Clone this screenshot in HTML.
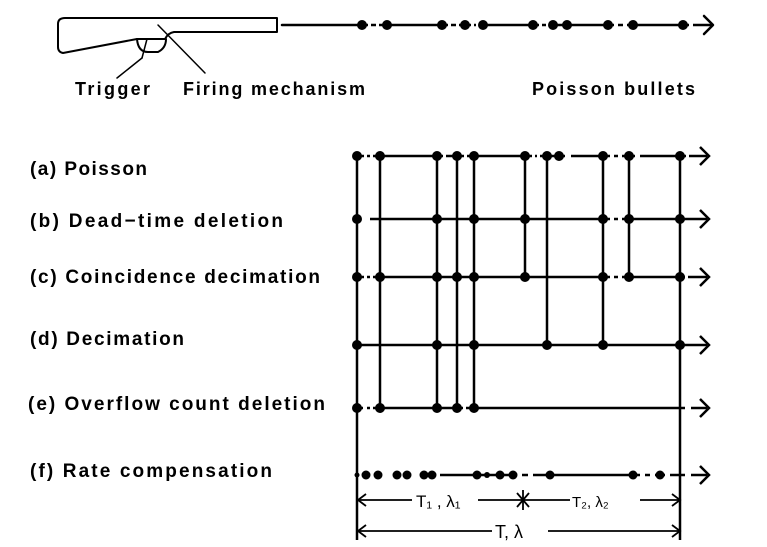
<!DOCTYPE html>
<html><head><meta charset="utf-8"><style>
html,body{margin:0;padding:0;background:#fff;}
svg{display:block;}
text{font-family:"Liberation Sans",sans-serif;font-weight:bold;font-size:19px;fill:#000;}
</style></head><body>
<svg width="767" height="547" viewBox="0 0 767 547" xmlns="http://www.w3.org/2000/svg">
<g stroke="#000" stroke-width="2" fill="none" stroke-linecap="round" stroke-linejoin="round">
<path d="M65 18 L277 18 L277 32 L174 32 Q168 33 165 39 L137 39 L63 53 Q58 52 58 47 L58 24 Q58 18 65 18"/>
<path d="M137 39 Q138 52 148 52 L158 52 Q166 48 166 39"/>
<line x1="158" y1="25" x2="205" y2="73" stroke-width="1.5"/>
<line x1="147" y1="39" x2="142" y2="58" stroke-width="1.5"/>
<line x1="142" y1="58" x2="117" y2="78" stroke-width="1.5"/>
<line x1="282" y1="25" x2="711" y2="25" stroke-width="2.5"/>
<path d="M704 16 L713 25 L704 34" stroke-width="2.5"/>
</g>
<g fill="#fff">
<rect x="368" y="21" width="3" height="8"/><rect x="376" y="21" width="3" height="8"/>
<rect x="448" y="21" width="3" height="8"/><rect x="456" y="21" width="3" height="8"/><rect x="471" y="21" width="3" height="8"/><rect x="476" y="21" width="3" height="8"/>
<rect x="539" y="21" width="3" height="8"/><rect x="546" y="21" width="3" height="8"/>
<rect x="614" y="21" width="4" height="8"/><rect x="623" y="21" width="4" height="8"/>
<rect x="689" y="21" width="4" height="8"/>
</g>
<g fill="#000">
<circle cx="362" cy="25" r="5"/><circle cx="387" cy="25" r="5"/>
<circle cx="442" cy="25" r="5"/><circle cx="465" cy="25" r="5"/><circle cx="483" cy="25" r="5"/>
<circle cx="533" cy="25" r="5"/><circle cx="553" cy="25" r="5"/><circle cx="567" cy="25" r="5"/>
<circle cx="608" cy="25" r="5"/><circle cx="633" cy="25" r="5"/><circle cx="683" cy="25" r="5"/>
</g>
<text x="75" y="95" style="font-size:18px" textLength="75">Trigger</text>
<text x="183" y="95" style="font-size:18px" textLength="182">Firing mechanism</text>
<text x="532" y="95" style="font-size:18px" textLength="163">Poisson bullets</text>

<text x="30" y="175" textLength="117">(a) Poisson</text>
<text x="30" y="227" textLength="253">(b) Dead−time deletion</text>
<text x="30" y="283" textLength="290">(c) Coincidence decimation</text>
<text x="30" y="345" textLength="154">(d) Decimation</text>
<text x="28" y="410" textLength="297">(e) Overflow count deletion</text>
<text x="30" y="477" textLength="242">(f) Rate compensation</text>

<g stroke="#000" stroke-width="2.5" fill="none">
<line x1="357" y1="156" x2="357" y2="540"/>
<line x1="680" y1="156" x2="680" y2="540"/>
<line x1="380" y1="156" x2="380" y2="408"/>
<line x1="437" y1="156" x2="437" y2="408"/>
<line x1="457" y1="156" x2="457" y2="408"/>
<line x1="474" y1="156" x2="474" y2="408"/>
<line x1="525" y1="156" x2="525" y2="277"/>
<line x1="547" y1="156" x2="547" y2="345"/>
<line x1="603" y1="156" x2="603" y2="345"/>
<line x1="629" y1="156" x2="629" y2="277"/>
<line x1="357" y1="156" x2="707" y2="156"/>
<line x1="370" y1="219" x2="707" y2="219"/>
<line x1="357" y1="277" x2="707" y2="277"/>
<line x1="357" y1="345" x2="707" y2="345"/>
<line x1="357" y1="408" x2="707" y2="408"/>
<line x1="440" y1="475" x2="707" y2="475"/>
<path d="M700 147 L709 156 L700 165"/>
<path d="M700 210 L709 219 L700 228"/>
<path d="M700 268 L709 277 L700 286"/>
<path d="M700 336 L709 345 L700 354"/>
<path d="M700 399 L709 408 L700 417"/>
<path d="M700 466 L709 475 L700 484"/>
</g>
<g fill="#fff">
<rect x="364" y="153" width="3" height="6"/><rect x="370" y="153" width="3" height="6"/>
<rect x="443" y="153" width="3" height="6"/><rect x="464" y="153" width="3" height="6"/>
<rect x="532" y="153" width="3" height="6"/><rect x="537" y="153" width="3" height="6"/>
<rect x="565" y="153" width="6" height="6"/><rect x="610" y="153" width="4" height="6"/><rect x="618" y="153" width="4" height="6"/>
<rect x="635" y="153" width="5" height="6"/><rect x="686" y="153" width="3" height="6"/>
<rect x="610" y="216" width="4" height="6"/><rect x="618" y="216" width="4" height="6"/>
<rect x="364" y="274" width="3" height="6"/><rect x="370" y="274" width="3" height="6"/>
<rect x="610" y="274" width="4" height="6"/><rect x="618" y="274" width="4" height="6"/>
<rect x="685" y="274" width="3" height="6"/>
<rect x="363" y="405" width="4" height="6"/><rect x="370" y="405" width="3" height="6"/>
<rect x="463" y="405" width="3" height="6"/><rect x="685" y="405" width="6" height="6"/>
<rect x="517" y="472" width="5" height="6"/><rect x="528" y="472" width="5" height="6"/>
<rect x="640" y="472" width="5" height="6"/><rect x="650" y="472" width="5" height="6"/><rect x="665" y="472" width="5" height="6"/><rect x="685" y="472" width="6" height="6"/>
</g>
<g fill="#000">
<circle cx="357" cy="156" r="5"/><circle cx="380" cy="156" r="5"/><circle cx="437" cy="156" r="5"/><circle cx="457" cy="156" r="5"/><circle cx="474" cy="156" r="5"/><circle cx="525" cy="156" r="5"/><circle cx="547" cy="156" r="5"/><circle cx="559" cy="156" r="5"/><circle cx="603" cy="156" r="5"/><circle cx="629" cy="156" r="5"/><circle cx="680" cy="156" r="5"/>
<circle cx="357" cy="219" r="5"/><circle cx="437" cy="219" r="5"/><circle cx="474" cy="219" r="5"/><circle cx="525" cy="219" r="5"/><circle cx="603" cy="219" r="5"/><circle cx="629" cy="219" r="5"/><circle cx="680" cy="219" r="5"/>
<circle cx="357" cy="277" r="5"/><circle cx="380" cy="277" r="5"/><circle cx="437" cy="277" r="5"/><circle cx="457" cy="277" r="5"/><circle cx="474" cy="277" r="5"/><circle cx="525" cy="277" r="5"/><circle cx="603" cy="277" r="5"/><circle cx="629" cy="277" r="5"/><circle cx="680" cy="277" r="5"/>
<circle cx="357" cy="345" r="5"/><circle cx="437" cy="345" r="5"/><circle cx="474" cy="345" r="5"/><circle cx="547" cy="345" r="5"/><circle cx="603" cy="345" r="5"/><circle cx="680" cy="345" r="5"/>
<circle cx="357" cy="408" r="5"/><circle cx="380" cy="408" r="5"/><circle cx="437" cy="408" r="5"/><circle cx="457" cy="408" r="5"/><circle cx="474" cy="408" r="5"/>
<circle cx="357" cy="475" r="2.5"/><circle cx="366" cy="475" r="4.5"/><circle cx="378" cy="475" r="4.5"/><circle cx="397" cy="475" r="4.5"/><circle cx="407" cy="475" r="4.5"/><circle cx="424" cy="475" r="4.5"/><circle cx="432" cy="475" r="4.5"/><circle cx="477" cy="475" r="4.5"/><circle cx="487" cy="475" r="3"/><circle cx="500" cy="475" r="4.5"/><circle cx="513" cy="475" r="4.5"/><circle cx="550" cy="475" r="4.5"/><circle cx="633" cy="475" r="4.5"/><circle cx="660" cy="475" r="4.5"/>
</g>
<g stroke="#000" stroke-width="1.8" fill="none">
<line x1="357" y1="500" x2="412" y2="500"/>
<line x1="478" y1="500" x2="570" y2="500"/>
<line x1="640" y1="500" x2="680" y2="500"/>
<path d="M366 494 L358 500 L366 506"/><path d="M672 494 L680 500 L672 506"/>
<line x1="517" y1="493" x2="529" y2="507"/><line x1="529" y1="493" x2="517" y2="507"/><line x1="523" y1="490" x2="523" y2="510"/>
<line x1="357" y1="531" x2="492" y2="531"/>
<line x1="548" y1="531" x2="680" y2="531"/>
<path d="M366 525 L358 531 L366 537"/><path d="M672 525 L680 531 L672 537"/>
</g>
<text x="416" y="507" style="font-weight:normal;font-size:17px">T₁ , λ₁</text>
<text x="572" y="507" style="font-weight:normal;font-size:15px">T₂, λ₂</text>
<text x="495" y="538" style="font-weight:normal;font-size:18px">T, λ</text>
</svg>
</body></html>
